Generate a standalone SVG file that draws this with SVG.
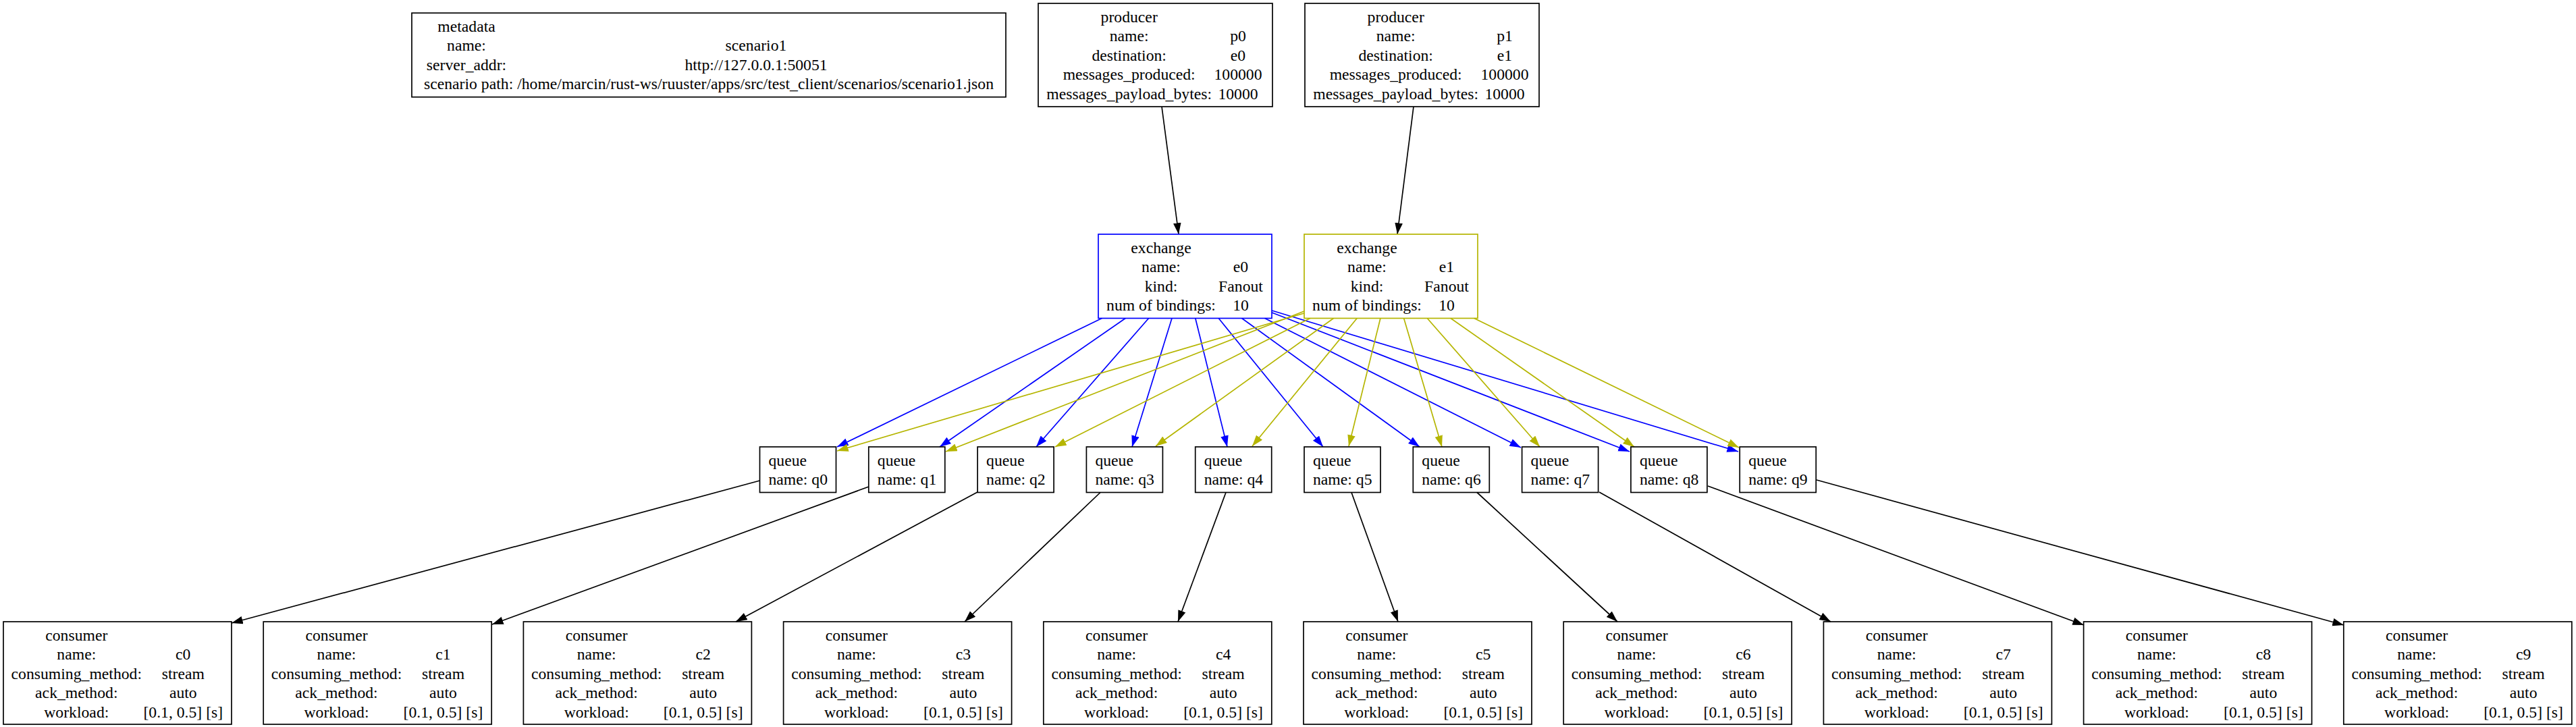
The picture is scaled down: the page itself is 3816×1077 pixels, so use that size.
<svg xmlns="http://www.w3.org/2000/svg" width="3816" height="1077" viewBox="0 0 3816 1077">
<style>
text{font-family:"Liberation Serif","Times New Roman",serif;font-size:23.7px;fill:#000}
.c{text-anchor:middle}
.s{text-anchor:start}
.box{fill:none;stroke:#000;stroke-width:1.7}
.ebx0{fill:none;stroke:#0000ff;stroke-width:1.7}
.ebx1{fill:none;stroke:#b5b500;stroke-width:1.7}
.e{fill:none;stroke-width:1.7}
.k{stroke:#000}
.b{stroke:#0000ff}
.y{stroke:#b5b500}
</style>
<defs>
<marker id="ak" markerUnits="userSpaceOnUse" markerWidth="18" markerHeight="13" refX="16.7" refY="5.8" orient="auto" viewBox="0 0 18 13"><path d="M0,0 L16.7,5.8 L0,11.6 z" fill="#000"/></marker>
<marker id="ab" markerUnits="userSpaceOnUse" markerWidth="18" markerHeight="13" refX="16.7" refY="5.8" orient="auto" viewBox="0 0 18 13"><path d="M0,0 L16.7,5.8 L0,11.6 z" fill="#0000ff"/></marker>
<marker id="ay" markerUnits="userSpaceOnUse" markerWidth="18" markerHeight="13" refX="16.7" refY="5.8" orient="auto" viewBox="0 0 18 13"><path d="M0,0 L16.7,5.8 L0,11.6 z" fill="#b5b500"/></marker>
</defs>
<rect x="0" y="0" width="3816" height="1077" fill="#fff"/>
<g id="connectors">
<path class="e k" marker-end="url(#ak)" d="M1721,158 L1746,347"/>
<path class="e k" marker-end="url(#ak)" d="M2094,158 L2070,347"/>
<path class="e b" marker-end="url(#ab)" d="M1632.3,471.5 L1240,662"/>
<path class="e b" marker-end="url(#ab)" d="M1667.2,471.5 L1392,662"/>
<path class="e b" marker-end="url(#ab)" d="M1701.6,471.5 L1535,662"/>
<path class="e b" marker-end="url(#ab)" d="M1736,471.5 L1677,662"/>
<path class="e b" marker-end="url(#ab)" d="M1770.8,471.5 L1818,662"/>
<path class="e b" marker-end="url(#ab)" d="M1805.2,471.5 L1960,662"/>
<path class="e b" marker-end="url(#ab)" d="M1839.6,471.5 L2103,662"/>
<path class="e b" marker-end="url(#ab)" d="M1873.6,471.5 L2253,663"/>
<path class="e b" marker-end="url(#ab)" d="M1884,463 L2414,669"/>
<path class="e b" marker-end="url(#ab)" d="M1884,460 L2575,669"/>
<path class="e y" marker-end="url(#ay)" d="M1932,464 L1240,668"/>
<path class="e y" marker-end="url(#ay)" d="M1932,461 L1401,669"/>
<path class="e y" marker-end="url(#ay)" d="M1940.8,471.5 L1563,662"/>
<path class="e y" marker-end="url(#ay)" d="M1975.5,471.5 L1712,661"/>
<path class="e y" marker-end="url(#ay)" d="M2010.2,471.5 L1855,661"/>
<path class="e y" marker-end="url(#ay)" d="M2044.9,471.5 L1998,661"/>
<path class="e y" marker-end="url(#ay)" d="M2079.6,471.5 L2136,662"/>
<path class="e y" marker-end="url(#ay)" d="M2114.3,471.5 L2281,662"/>
<path class="e y" marker-end="url(#ay)" d="M2149,471.5 L2421,662"/>
<path class="e y" marker-end="url(#ay)" d="M2183.7,471.5 L2576,663"/>
<path class="e k" marker-end="url(#ak)" d="M1125.5,712 L343,923"/>
<path class="e k" marker-end="url(#ak)" d="M1287,721 L729,925"/>
<path class="e k" marker-end="url(#ak)" d="M1448,729 L1090,921"/>
<path class="e k" marker-end="url(#ak)" d="M1630,729.5 L1429,921"/>
<path class="e k" marker-end="url(#ak)" d="M1816,729.5 L1745,921"/>
<path class="e k" marker-end="url(#ak)" d="M2002,729.5 L2071,921"/>
<path class="e k" marker-end="url(#ak)" d="M2188,729.5 L2396,921"/>
<path class="e k" marker-end="url(#ak)" d="M2369,729 L2712,921"/>
<path class="e k" marker-end="url(#ak)" d="M2530,720 L3087,926"/>
<path class="e k" marker-end="url(#ak)" d="M2691,711 L3472,926"/>
</g>
<g id="metadata">
<rect class="box" x="610" y="19.25" width="880" height="124.5"/>
<text class="c" x="691" y="46.75">metadata</text>
<text class="c" x="691" y="75.25">name:</text><text class="c" x="1120" y="75.25">scenario1</text>
<text class="c" x="691" y="103.75">server_addr:</text><text class="c" x="1120" y="103.75">http://127.0.0.1:50051</text>
<text class="c" x="1050" y="132.25">scenario path: /home/marcin/rust-ws/ruuster/apps/src/test_client/scenarios/scenario1.json</text>
</g>
<g id="p0">
<rect class="box" x="1538" y="5" width="347" height="153"/>
<text class="c" x="1672.7" y="32.5">producer</text>
<text class="c" x="1672.7" y="61">name:</text><text class="c" x="1834" y="61">p0</text>
<text class="c" x="1672.7" y="89.5">destination:</text><text class="c" x="1834" y="89.5">e0</text>
<text class="c" x="1672.7" y="118">messages_produced:</text><text class="c" x="1834" y="118">100000</text>
<text class="c" x="1672.7" y="146.5">messages_payload_bytes:</text><text class="c" x="1834" y="146.5">10000</text>
</g>
<g id="p1">
<rect class="box" x="1933" y="5" width="347" height="153"/>
<text class="c" x="2067.7" y="32.5">producer</text>
<text class="c" x="2067.7" y="61">name:</text><text class="c" x="2229" y="61">p1</text>
<text class="c" x="2067.7" y="89.5">destination:</text><text class="c" x="2229" y="89.5">e1</text>
<text class="c" x="2067.7" y="118">messages_produced:</text><text class="c" x="2229" y="118">100000</text>
<text class="c" x="2067.7" y="146.5">messages_payload_bytes:</text><text class="c" x="2229" y="146.5">10000</text>
</g>
<g id="e0">
<rect class="ebx0" x="1627" y="347" width="257" height="124.5"/>
<text class="c" x="1720" y="374.5">exchange</text>
<text class="c" x="1720" y="403">name:</text><text class="c" x="1838" y="403">e0</text>
<text class="c" x="1720" y="431.5">kind:</text><text class="c" x="1838" y="431.5">Fanout</text>
<text class="c" x="1720" y="460">num of bindings:</text><text class="c" x="1838" y="460">10</text>
</g>
<g id="e1">
<rect class="ebx1" x="1932" y="347" width="257" height="124.5"/>
<text class="c" x="2025" y="374.5">exchange</text>
<text class="c" x="2025" y="403">name:</text><text class="c" x="2143" y="403">e1</text>
<text class="c" x="2025" y="431.5">kind:</text><text class="c" x="2143" y="431.5">Fanout</text>
<text class="c" x="2025" y="460">num of bindings:</text><text class="c" x="2143" y="460">10</text>
</g>
<g id="q0"><rect class="box" x="1125.5" y="662" width="113" height="67.5"/><text class="s" x="1138.5" y="689.5">queue</text><text class="s" x="1138.5" y="718">name: q0</text></g>
<g id="q1"><rect class="box" x="1286.8" y="662" width="113" height="67.5"/><text class="s" x="1299.8" y="689.5">queue</text><text class="s" x="1299.8" y="718">name: q1</text></g>
<g id="q2"><rect class="box" x="1448.1" y="662" width="113" height="67.5"/><text class="s" x="1461.1" y="689.5">queue</text><text class="s" x="1461.1" y="718">name: q2</text></g>
<g id="q3"><rect class="box" x="1609.4" y="662" width="113" height="67.5"/><text class="s" x="1622.4" y="689.5">queue</text><text class="s" x="1622.4" y="718">name: q3</text></g>
<g id="q4"><rect class="box" x="1770.7" y="662" width="113" height="67.5"/><text class="s" x="1783.7" y="689.5">queue</text><text class="s" x="1783.7" y="718">name: q4</text></g>
<g id="q5"><rect class="box" x="1932" y="662" width="113" height="67.5"/><text class="s" x="1945" y="689.5">queue</text><text class="s" x="1945" y="718">name: q5</text></g>
<g id="q6"><rect class="box" x="2093.3" y="662" width="113" height="67.5"/><text class="s" x="2106.3" y="689.5">queue</text><text class="s" x="2106.3" y="718">name: q6</text></g>
<g id="q7"><rect class="box" x="2254.6" y="662" width="113" height="67.5"/><text class="s" x="2267.6" y="689.5">queue</text><text class="s" x="2267.6" y="718">name: q7</text></g>
<g id="q8"><rect class="box" x="2415.9" y="662" width="113" height="67.5"/><text class="s" x="2428.9" y="689.5">queue</text><text class="s" x="2428.9" y="718">name: q8</text></g>
<g id="q9"><rect class="box" x="2577.2" y="662" width="113" height="67.5"/><text class="s" x="2590.2" y="689.5">queue</text><text class="s" x="2590.2" y="718">name: q9</text></g>
<g id="c0"><rect class="box" x="5" y="921" width="338" height="152"/>
<text class="c" x="113.3" y="948.5">consumer</text>
<text class="c" x="113.3" y="977">name:</text><text class="c" x="271.3" y="977">c0</text>
<text class="c" x="113.3" y="1005.5">consuming_method:</text><text class="c" x="271.3" y="1005.5">stream</text>
<text class="c" x="113.3" y="1034">ack_method:</text><text class="c" x="271.3" y="1034">auto</text>
<text class="c" x="113.3" y="1062.5">workload:</text><text class="c" x="271.3" y="1062.5">[0.1, 0.5] [s]</text></g>
<g id="c1"><rect class="box" x="390.2" y="921" width="338" height="152"/>
<text class="c" x="498.5" y="948.5">consumer</text>
<text class="c" x="498.5" y="977">name:</text><text class="c" x="656.5" y="977">c1</text>
<text class="c" x="498.5" y="1005.5">consuming_method:</text><text class="c" x="656.5" y="1005.5">stream</text>
<text class="c" x="498.5" y="1034">ack_method:</text><text class="c" x="656.5" y="1034">auto</text>
<text class="c" x="498.5" y="1062.5">workload:</text><text class="c" x="656.5" y="1062.5">[0.1, 0.5] [s]</text></g>
<g id="c2"><rect class="box" x="775.4" y="921" width="338" height="152"/>
<text class="c" x="883.7" y="948.5">consumer</text>
<text class="c" x="883.7" y="977">name:</text><text class="c" x="1041.7" y="977">c2</text>
<text class="c" x="883.7" y="1005.5">consuming_method:</text><text class="c" x="1041.7" y="1005.5">stream</text>
<text class="c" x="883.7" y="1034">ack_method:</text><text class="c" x="1041.7" y="1034">auto</text>
<text class="c" x="883.7" y="1062.5">workload:</text><text class="c" x="1041.7" y="1062.5">[0.1, 0.5] [s]</text></g>
<g id="c3"><rect class="box" x="1160.6" y="921" width="338" height="152"/>
<text class="c" x="1268.9" y="948.5">consumer</text>
<text class="c" x="1268.9" y="977">name:</text><text class="c" x="1426.9" y="977">c3</text>
<text class="c" x="1268.9" y="1005.5">consuming_method:</text><text class="c" x="1426.9" y="1005.5">stream</text>
<text class="c" x="1268.9" y="1034">ack_method:</text><text class="c" x="1426.9" y="1034">auto</text>
<text class="c" x="1268.9" y="1062.5">workload:</text><text class="c" x="1426.9" y="1062.5">[0.1, 0.5] [s]</text></g>
<g id="c4"><rect class="box" x="1545.8" y="921" width="338" height="152"/>
<text class="c" x="1654.1" y="948.5">consumer</text>
<text class="c" x="1654.1" y="977">name:</text><text class="c" x="1812.1" y="977">c4</text>
<text class="c" x="1654.1" y="1005.5">consuming_method:</text><text class="c" x="1812.1" y="1005.5">stream</text>
<text class="c" x="1654.1" y="1034">ack_method:</text><text class="c" x="1812.1" y="1034">auto</text>
<text class="c" x="1654.1" y="1062.5">workload:</text><text class="c" x="1812.1" y="1062.5">[0.1, 0.5] [s]</text></g>
<g id="c5"><rect class="box" x="1931" y="921" width="338" height="152"/>
<text class="c" x="2039.3" y="948.5">consumer</text>
<text class="c" x="2039.3" y="977">name:</text><text class="c" x="2197.3" y="977">c5</text>
<text class="c" x="2039.3" y="1005.5">consuming_method:</text><text class="c" x="2197.3" y="1005.5">stream</text>
<text class="c" x="2039.3" y="1034">ack_method:</text><text class="c" x="2197.3" y="1034">auto</text>
<text class="c" x="2039.3" y="1062.5">workload:</text><text class="c" x="2197.3" y="1062.5">[0.1, 0.5] [s]</text></g>
<g id="c6"><rect class="box" x="2316.2" y="921" width="338" height="152"/>
<text class="c" x="2424.5" y="948.5">consumer</text>
<text class="c" x="2424.5" y="977">name:</text><text class="c" x="2582.5" y="977">c6</text>
<text class="c" x="2424.5" y="1005.5">consuming_method:</text><text class="c" x="2582.5" y="1005.5">stream</text>
<text class="c" x="2424.5" y="1034">ack_method:</text><text class="c" x="2582.5" y="1034">auto</text>
<text class="c" x="2424.5" y="1062.5">workload:</text><text class="c" x="2582.5" y="1062.5">[0.1, 0.5] [s]</text></g>
<g id="c7"><rect class="box" x="2701.4" y="921" width="338" height="152"/>
<text class="c" x="2809.7" y="948.5">consumer</text>
<text class="c" x="2809.7" y="977">name:</text><text class="c" x="2967.7" y="977">c7</text>
<text class="c" x="2809.7" y="1005.5">consuming_method:</text><text class="c" x="2967.7" y="1005.5">stream</text>
<text class="c" x="2809.7" y="1034">ack_method:</text><text class="c" x="2967.7" y="1034">auto</text>
<text class="c" x="2809.7" y="1062.5">workload:</text><text class="c" x="2967.7" y="1062.5">[0.1, 0.5] [s]</text></g>
<g id="c8"><rect class="box" x="3086.6" y="921" width="338" height="152"/>
<text class="c" x="3194.9" y="948.5">consumer</text>
<text class="c" x="3194.9" y="977">name:</text><text class="c" x="3352.9" y="977">c8</text>
<text class="c" x="3194.9" y="1005.5">consuming_method:</text><text class="c" x="3352.9" y="1005.5">stream</text>
<text class="c" x="3194.9" y="1034">ack_method:</text><text class="c" x="3352.9" y="1034">auto</text>
<text class="c" x="3194.9" y="1062.5">workload:</text><text class="c" x="3352.9" y="1062.5">[0.1, 0.5] [s]</text></g>
<g id="c9"><rect class="box" x="3471.8" y="921" width="338" height="152"/>
<text class="c" x="3580.1" y="948.5">consumer</text>
<text class="c" x="3580.1" y="977">name:</text><text class="c" x="3738.1" y="977">c9</text>
<text class="c" x="3580.1" y="1005.5">consuming_method:</text><text class="c" x="3738.1" y="1005.5">stream</text>
<text class="c" x="3580.1" y="1034">ack_method:</text><text class="c" x="3738.1" y="1034">auto</text>
<text class="c" x="3580.1" y="1062.5">workload:</text><text class="c" x="3738.1" y="1062.5">[0.1, 0.5] [s]</text></g>
</svg>
